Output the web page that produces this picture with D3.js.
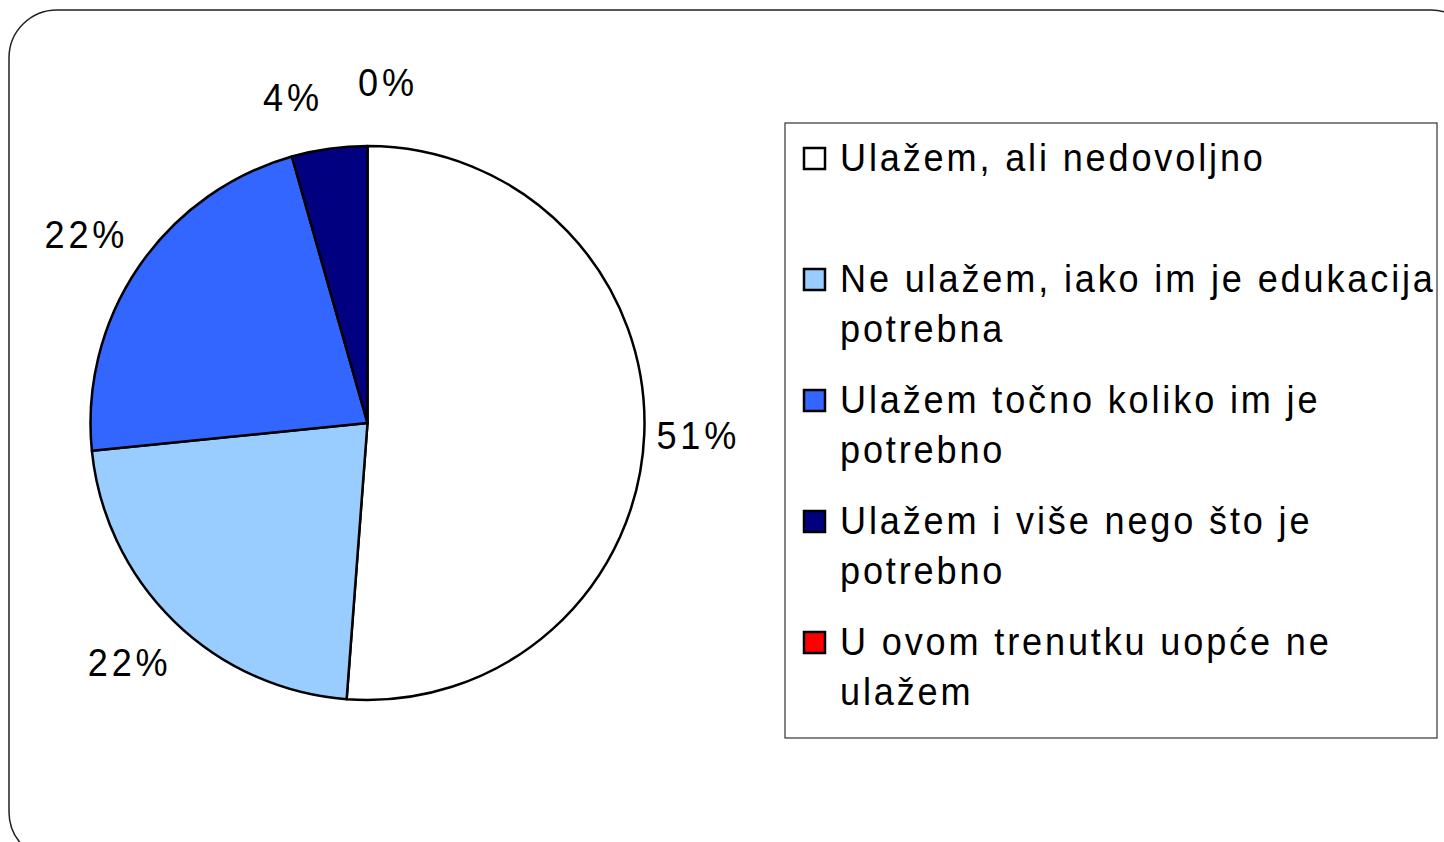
<!DOCTYPE html>
<html>
<head>
<meta charset="utf-8">
<script src="https://cdn.jsdelivr.net/npm/d3@7"></script>
<style>
  body { margin: 0; background: #fff; }
  svg text { font-family: "Liberation Sans", Arial, sans-serif; fill: #000; }
</style>
</head>
<body>
<svg width="1444" height="842"></svg>
<script>
const categories = [
  "Ulažem, ali nedovoljno",
  "Ne ulažem, iako im je edukacija potrebna",
  "Ulažem točno koliko im je potrebno",
  "Ulažem i više nego što je potrebno",
  "U ovom trenutku uopće ne ulažem"
];
const values = [51.2, 22.2, 22.2, 4.4, 0];
const pctLabels = ["51%", "22%", "22%", "4%", "0%"];
const colors = ["#ffffff", "#99ccff", "#3366ff", "#000080", "#ff0000"];

const svg = d3.select("svg");

// outer rounded frame (runs off the right and bottom edges)
svg.append("rect")
  .attr("x", 9).attr("y", 10)
  .attr("width", 1470).attr("height", 850)
  .attr("rx", 48).attr("ry", 48)
  .attr("fill", "#fff")
  .attr("stroke", "#222")
  .attr("stroke-width", 1.5);

const cx = 367.5, cy = 423, radius = 277;
const fontSize = 37;
const squeeze = 0.95;

const pie = d3.pie().sort(null).value((d) => d.val);
const data = categories.map((c, i) => ({ cat: c, val: values[i], label: pctLabels[i], color: colors[i] }));
const arcs = pie(data);
const arc = d3.arc().innerRadius(0).outerRadius(radius);

const chart = svg.append("g").attr("transform", `translate(${cx}, ${cy})`);

chart.selectAll("path")
  .data(arcs.filter((a) => a.data.val > 0))
  .enter()
  .append("path")
  .attr("d", arc)
  .attr("fill", (a) => a.data.color)
  .attr("stroke", "#000")
  .attr("stroke-width", 2.5)
  .attr("stroke-linejoin", "round");

// data labels outside the pie
const labelR = radius + 58;
const labelPos = arcs.map((a) => {
  const m = (a.startAngle + a.endAngle) / 2;
  return { x: labelR * Math.sin(m), y: -labelR * Math.cos(m), text: a.data.label };
});
// push apart labels that collide
const minGap = 95;
for (let i = 0; i < labelPos.length; i++) {
  for (let j = i + 1; j < labelPos.length; j++) {
    const a = labelPos[i], b = labelPos[j];
    if (Math.abs(a.y - b.y) < 40 && Math.abs(a.x - b.x) < minGap) {
      const mid = (a.x + b.x) / 2;
      const left = a.x <= b.x ? a : b, right = a.x <= b.x ? b : a;
      left.x = mid - minGap / 2;
      right.x = mid + minGap / 2;
      left.y += 6;
      right.y -= 5;
    }
  }
}

chart.selectAll("text.pct")
  .data(labelPos)
  .enter()
  .append("text")
  .attr("class", "pct")
  .attr("transform", (d) => `translate(${d.x - 4}, ${d.y}) scale(${squeeze}, 1)`)
  .attr("dy", "0.35em")
  .attr("text-anchor", "middle")
  .style("font-size", (fontSize + 1) + "px")
  .style("letter-spacing", "4px")
  .text((d) => d.text);

// legend
const legX = 785, legY = 123, legW = 652, legH = 615;
const legend = svg.append("g");
legend.append("rect")
  .attr("x", legX).attr("y", legY)
  .attr("width", legW).attr("height", legH)
  .attr("fill", "#fff")
  .attr("stroke", "#333")
  .attr("stroke-width", 1.2);

const itemStep = 121, lineH = 50, textX = 840, maxW = 604;
const items = legend.selectAll("g.item")
  .data(data)
  .enter()
  .append("g")
  .attr("class", "item")
  .attr("transform", (d, i) => `translate(0, ${legY + 48 + i * itemStep})`);

items.append("rect")
  .attr("x", 804).attr("y", -23)
  .attr("width", 21).attr("height", 21)
  .attr("fill", (d) => d.color)
  .attr("stroke", "#000")
  .attr("stroke-width", 2.5);

items.each(function (d) {
  const g = d3.select(this);
  const words = d.cat.split(" ");
  const t = g.append("text")
    .attr("transform", `translate(${textX}, 0) scale(${squeeze}, 1)`)
    .style("font-size", (fontSize + 1) + "px")
    .style("letter-spacing", "3px");
  let line = [];
  let lineNo = 0;
  let tspan = t.append("tspan").attr("x", 0).attr("y", 0);
  words.forEach((w) => {
    line.push(w);
    tspan.text(line.join(" "));
    if (tspan.node().getComputedTextLength() * squeeze > maxW && line.length > 1) {
      line.pop();
      tspan.text(line.join(" "));
      line = [w];
      lineNo++;
      tspan = t.append("tspan").attr("x", 0).attr("y", lineNo * lineH).text(w);
    }
  });
});
</script>
</body>
</html>
